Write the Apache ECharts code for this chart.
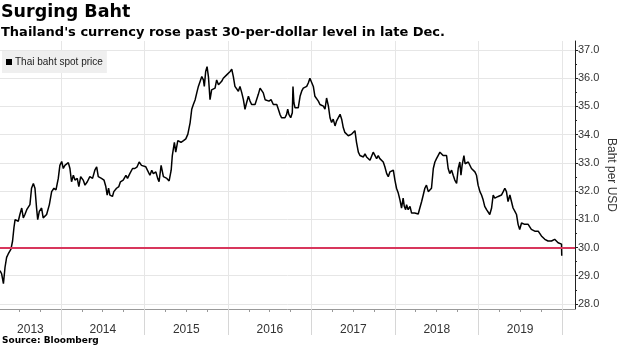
<!DOCTYPE html>
<html><head><meta charset="utf-8">
<script src="https://cdn.jsdelivr.net/npm/echarts@6/dist/echarts.min.js"></script>
<style>html,body{margin:0;padding:0;background:#fff}#c{width:620px;height:348px}</style>
</head><body><div id="c"></div>
<script>
const titleText = 'Surging Baht';
const subtitleText = "Thailand's currency rose past 30-per-dollar level in late Dec.";
const sourceText = 'Source: Bloomberg';
const seriesName = 'Thai baht spot price';
const yAxisName = 'Baht per USD';
const xMin = '2013-04-08';
const xMax = '2020-02-27';
const yearStarts = ['2014-01-01','2015-01-01','2016-01-01','2017-01-01','2018-01-01','2019-01-01','2020-01-01'];
const quarterTicks = ['2013-07-01','2013-10-01','2014-01-01','2014-04-01','2014-07-01','2014-10-01','2015-01-01','2015-04-01','2015-07-01','2015-10-01','2016-01-01','2016-04-01','2016-07-01','2016-10-01','2017-01-01','2017-04-01','2017-07-01','2017-10-01','2018-01-01','2018-04-01','2018-07-01','2018-10-01','2019-01-01','2019-04-01','2019-07-01','2019-10-01','2020-01-01'];
const yearLabelDates = ['2013-08-19','2014-07-02','2015-07-02','2016-07-02','2017-07-02','2018-07-02','2019-07-02'];
const yTicks = [28,29,30,31,32,33,34,35,36,37];
const yMinorTicks = [28.5,29.5,30.5,31.5,32.5,33.5,34.5,35.5,36.5];
const yMin = 27.82, yMax = 37.32;
const threshold = 30;

const dates = [
'2013-04-08','2013-04-15','2013-04-23','2013-04-30','2013-05-07','2013-05-14','2013-05-26','2013-06-02','2013-06-08','2013-06-13','2013-06-20','2013-06-27','2013-07-04','2013-07-12','2013-07-19','2013-07-26','2013-08-03','2013-08-10','2013-08-17','2013-08-24','2013-09-01','2013-09-08','2013-09-15','2013-09-20','2013-09-27','2013-10-07','2013-10-14','2013-10-22','2013-10-29','2013-11-10','2013-11-20','2013-11-30','2013-12-09','2013-12-19','2013-12-26',
'2014-01-03','2014-01-10','2014-01-17','2014-01-24','2014-02-01','2014-02-08','2014-02-15','2014-02-23','2014-03-02','2014-03-12','2014-03-19','2014-03-27','2014-04-07','2014-04-15','2014-04-25','2014-05-06','2014-05-18','2014-05-28','2014-06-05','2014-06-12','2014-06-19','2014-06-26','2014-07-07','2014-07-15','2014-07-21','2014-07-27','2014-08-02','2014-08-13','2014-08-19','2014-08-31','2014-09-10','2014-09-17','2014-09-29','2014-10-11','2014-10-18','2014-10-28','2014-11-09','2014-11-19','2014-11-29','2014-12-08','2014-12-18','2014-12-26',
'2015-01-06','2015-01-13','2015-01-24','2015-02-01','2015-02-08','2015-02-19','2015-02-27','2015-03-05','2015-03-14','2015-03-24','2015-03-31','2015-04-08','2015-04-18','2015-04-27','2015-05-02','2015-05-11','2015-05-17','2015-05-26','2015-06-01','2015-06-09','2015-06-20','2015-06-30','2015-07-09','2015-07-19','2015-07-26','2015-08-02','2015-08-10','2015-08-17','2015-08-24','2015-08-31','2015-09-08','2015-09-15','2015-09-19','2015-09-25','2015-10-01','2015-10-07','2015-10-14','2015-10-21','2015-10-29','2015-11-05','2015-11-12','2015-11-20','2015-11-27','2015-12-04','2015-12-11','2015-12-19','2015-12-26',
'2016-01-02','2016-01-10','2016-01-17','2016-01-24','2016-01-31','2016-02-08','2016-02-15','2016-02-22','2016-03-01','2016-03-08','2016-03-15','2016-03-22','2016-03-30','2016-04-06','2016-04-13','2016-04-21','2016-04-28','2016-05-05','2016-05-12','2016-05-20','2016-05-27','2016-06-03','2016-06-11','2016-06-18','2016-06-28','2016-07-07','2016-07-17','2016-07-24','2016-08-01','2016-08-08','2016-08-15','2016-08-22','2016-08-30','2016-09-06','2016-09-13','2016-09-18','2016-09-23','2016-10-01','2016-10-08','2016-10-11','2016-10-15','2016-10-20','2016-10-27','2016-11-03','2016-11-11','2016-11-18','2016-11-25','2016-12-03','2016-12-10','2016-12-17','2016-12-24',
'2017-01-01','2017-01-08','2017-01-15','2017-01-23','2017-01-30','2017-02-06','2017-02-13','2017-02-21','2017-02-28','2017-03-07','2017-03-15','2017-03-22','2017-03-29','2017-04-05','2017-04-13','2017-04-20','2017-04-27','2017-05-05','2017-05-12','2017-05-19','2017-05-26','2017-06-03','2017-06-10','2017-06-17','2017-06-25','2017-07-02','2017-07-09','2017-07-16','2017-07-24','2017-07-31','2017-08-07','2017-08-15','2017-08-22','2017-08-29','2017-09-05','2017-09-13','2017-09-20','2017-09-27','2017-10-05','2017-10-12','2017-10-19','2017-10-26','2017-11-03','2017-11-10','2017-11-17','2017-11-25','2017-12-02','2017-12-09','2017-12-16','2017-12-24','2017-12-31',
'2018-01-07','2018-01-15','2018-01-22','2018-01-29','2018-02-05','2018-02-10','2018-02-16','2018-02-20','2018-02-27','2018-03-07','2018-03-14','2018-03-21','2018-03-28','2018-04-05','2018-04-12','2018-04-19','2018-04-27','2018-05-04','2018-05-11','2018-05-18','2018-05-26','2018-06-02','2018-06-09','2018-06-17','2018-06-24','2018-07-01','2018-07-08','2018-07-16','2018-07-23','2018-07-30','2018-08-07','2018-08-14','2018-08-21','2018-08-28','2018-09-05','2018-09-12','2018-09-19','2018-09-27','2018-10-04','2018-10-11','2018-10-16','2018-10-21','2018-10-29','2018-11-03','2018-11-09','2018-11-17','2018-11-24','2018-12-01','2018-12-08','2018-12-16','2018-12-23','2018-12-30',
'2019-01-07','2019-01-14','2019-01-21','2019-01-28','2019-02-05','2019-02-12','2019-02-19','2019-02-27','2019-03-06','2019-03-13','2019-03-20','2019-03-28','2019-04-04','2019-04-11','2019-04-19','2019-04-26','2019-05-03','2019-05-10','2019-05-18','2019-05-25','2019-06-01','2019-06-09','2019-06-16','2019-06-23','2019-06-30','2019-07-08','2019-07-15','2019-07-22','2019-07-30','2019-08-06','2019-08-13','2019-08-20','2019-08-28','2019-09-04','2019-09-11','2019-09-19','2019-09-26','2019-10-03','2019-10-10','2019-10-18','2019-10-25','2019-11-01','2019-11-09','2019-11-16','2019-11-23','2019-11-30','2019-12-08','2019-12-15','2019-12-22','2019-12-30','2019-12-31'
];
const baht = [
29.18,29.07,28.72,29.30,29.65,29.77,29.94,30.23,30.70,30.99,31.05,30.93,31.17,31.40,31.05,31.17,31.34,31.28,31.52,32.10,32.27,32.10,31.40,30.99,31.28,31.40,31.05,30.99,31.17,31.52,31.98,32.10,32.04,32.45,32.91,
33.05,32.80,32.91,32.97,33.01,32.80,32.33,32.56,32.39,32.45,32.16,32.51,32.39,32.21,32.33,32.51,32.45,32.74,32.86,32.51,32.56,32.45,32.39,32.16,31.86,32.10,31.86,31.81,31.98,32.10,32.16,32.33,32.39,32.56,32.45,32.62,32.80,32.80,32.86,33.03,32.91,32.97,
32.86,32.80,32.56,32.74,32.62,32.68,32.45,32.33,32.91,32.51,32.56,32.45,32.36,32.74,33.26,33.73,33.38,33.79,33.85,33.73,33.79,33.85,34.02,34.43,34.90,35.07,35.24,35.48,35.71,35.77,36.06,35.94,35.71,36.24,36.41,36.06,35.24,35.59,35.54,35.65,35.94,35.77,35.83,35.89,36.00,36.06,36.12,
36.06,36.24,36.32,36.06,35.71,35.65,35.54,35.71,35.48,35.24,34.90,35.13,35.36,35.19,35.07,35.01,35.07,35.13,35.42,35.65,35.71,35.48,35.24,35.30,35.19,35.24,35.07,35.01,35.07,34.90,34.72,34.60,34.66,34.60,34.72,34.90,34.72,34.60,34.78,35.71,35.13,34.95,35.01,34.95,35.36,35.54,35.65,35.59,35.71,35.83,36.00,
35.94,35.71,35.36,35.30,35.19,35.07,35.01,35.01,34.90,35.30,35.01,34.60,34.43,34.55,34.31,34.49,34.55,34.72,34.55,34.25,34.08,34.02,33.96,33.96,34.02,33.96,34.14,33.73,33.38,33.26,33.26,33.21,33.32,33.21,33.15,33.09,33.15,33.38,33.38,33.15,33.26,33.15,33.09,33.03,32.86,32.62,32.51,32.68,32.62,32.74,32.39,
32.10,31.92,31.69,31.40,31.75,31.46,31.34,31.52,31.34,31.46,31.22,31.19,31.22,31.17,31.19,31.40,31.63,31.86,32.10,32.21,31.98,32.05,32.10,32.80,33.03,33.15,33.26,33.38,33.44,33.26,33.32,33.26,32.80,32.62,32.74,32.56,32.39,32.27,32.80,33.03,32.56,32.91,33.26,32.97,32.91,33.03,32.97,32.80,32.80,32.68,32.56,32.21,
31.98,31.86,31.69,31.46,31.34,31.40,31.17,31.40,31.86,31.75,31.75,31.81,31.81,31.86,31.98,32.10,31.98,31.63,31.86,31.81,31.40,31.28,31.17,30.82,30.64,30.87,30.93,30.82,30.87,30.82,30.82,30.64,30.64,30.58,30.52,30.58,30.58,30.41,30.35,30.29,30.23,30.23,30.29,30.23,30.23,30.29,30.23,30.17,30.12,30.12,29.71
];

const tp = s => Date.UTC(+s.slice(0,4), +s.slice(5,7) - 1, +s.slice(8,10));
const seriesData = dates.map((d, i) => [tp(d), baht[i]]);
const FONT = 'Liberation Sans';
const BOLD = 'DejaVu Sans';
const RED = '#d8365c';

const chart = echarts.init(document.getElementById('c'), null, {renderer: 'canvas'});
chart.setOption({
  animation: false,
  backgroundColor: '#ffffff',
  title: [
    {text: titleText, left: 1, top: 3, padding: 0,
     textStyle: {fontFamily: BOLD, fontWeight: 'bold', fontSize: 17.5, color: '#000'}},
    {text: subtitleText, left: 1, top: 26, padding: 0,
     textStyle: {fontFamily: BOLD, fontWeight: 'bold', fontSize: 13, color: '#000'}},
    {text: sourceText, left: 2, top: 336, padding: 0,
     textStyle: {fontFamily: BOLD, fontWeight: 'bold', fontSize: 9, color: '#000'}}
  ],
  legend: {
    data: [seriesName], left: 2, top: 51, orient: 'horizontal',
    backgroundColor: '#efefef', padding: [6, 4, 6, 4],
    icon: 'rect', itemWidth: 6, itemHeight: 6, itemGap: 4,
    textStyle: {fontFamily: FONT, fontSize: 10, color: '#222', padding: [0, 0, 0, -2]},
    selectedMode: false
  },
  grid: {left: 0, right: 45, top: 41, bottom: 39, containLabel: false, outerBoundsMode: 'none'},
  xAxis: [
    {type: 'value', min: tp(xMin), max: tp(xMax), position: 'bottom', scale: true,
     axisLine: {show: true, onZero: false, lineStyle: {color: '#999', width: 1}},
     axisTick: {show: true, length: 3, customValues: quarterTicks.map(tp), lineStyle: {color: '#999'}},
     axisLabel: {show: false}, splitLine: {show: false}},
    {type: 'value', min: tp(xMin), max: tp(xMax), position: 'bottom', gridIndex: 0, scale: true,
     axisLine: {show: false, onZero: false},
     axisTick: {show: true, length: 26, customValues: yearStarts.map(tp), lineStyle: {color: '#d6d6d6'}},
     axisLabel: {show: true, customValues: yearLabelDates.map(tp), margin: 15,
       formatter: v => String(new Date(v).getUTCFullYear()),
       fontFamily: FONT, fontSize: 12, color: '#333'},
     splitLine: {show: true, lineStyle: {color: '#e6e6e6', width: 1}}}
  ],
  yAxis: [
    {type: 'value', position: 'right', min: yMin, max: yMax,
     axisLine: {show: true, lineStyle: {color: '#222', width: 1}},
     axisTick: {show: true, inside: false, length: 3, customValues: yTicks, lineStyle: {color: '#222'}},
     axisLabel: {show: true, customValues: yTicks, margin: 3, formatter: v => v.toFixed(1),
       fontFamily: FONT, fontSize: 11, color: '#333'},
     splitLine: {show: true, lineStyle: {color: '#e6e6e6', width: 1}},
     name: yAxisName, nameLocation: 'middle', nameRotate: -90, nameGap: 30, nameMoveOverlap: false,
     nameTextStyle: {fontFamily: FONT, fontSize: 12, color: '#333'}},
    {type: 'value', position: 'right', min: yMin, max: yMax,
     axisLine: {show: false},
     axisTick: {show: true, inside: false, length: 2, customValues: yMinorTicks, lineStyle: {color: '#222'}},
     axisLabel: {show: false}, splitLine: {show: false}}
  ],
  series: [
    {name: seriesName, type: 'line', xAxisIndex: 0, yAxisIndex: 0,
     data: seriesData, showSymbol: false, symbol: 'none', z: 3,
     color: '#000',
     lineStyle: {color: '#000', width: 1.5}, itemStyle: {color: '#000'},
     markLine: {silent: true, symbol: ['none', 'none'], precision: 2,
       label: {show: false}, emphasis: {disabled: true},
       lineStyle: {color: RED, width: 2, type: 'solid', opacity: 1},
       data: [{yAxis: threshold, lineStyle: {color: RED, width: 2, type: 'solid'}}]}}
  ]
});
</script></body></html>
